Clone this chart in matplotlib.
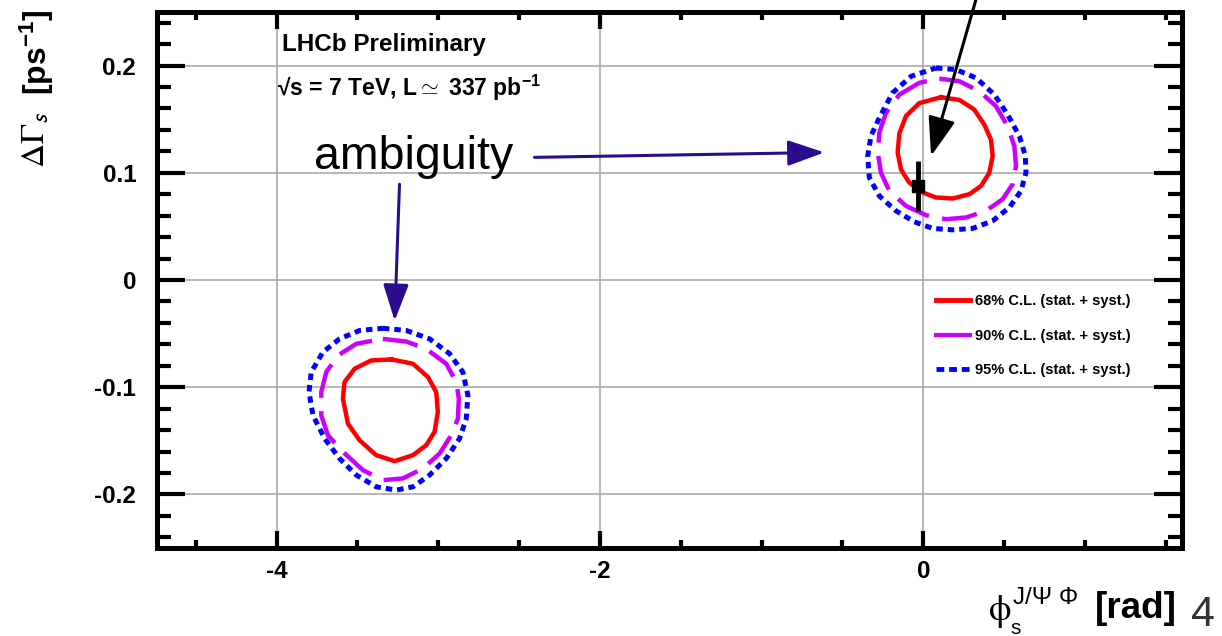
import numpy as np
import matplotlib
matplotlib.use("Agg")
from matplotlib import pyplot as plt
from matplotlib.lines import Line2D
from matplotlib.ticker import MultipleLocator

plt.rcParams['font.family'] = ['Liberation Sans', 'DejaVu Sans']
plt.rcParams['axes.unicode_minus'] = False
plt.rcParams['mathtext.fontset'] = 'custom'
plt.rcParams['mathtext.rm'] = 'Liberation Sans:bold'
plt.rcParams['mathtext.bf'] = 'Liberation Sans:bold'
plt.rcParams['mathtext.it'] = 'Liberation Sans:bold'

# contours around the best fit (phi_s ~ 0)
c68_a_x = [0.109, 0.223, 0.315, 0.377, 0.418, 0.429, 0.408, 0.357, 0.284, 0.181, 0.078, -0.004,
           -0.087, -0.138, -0.159, -0.148, -0.107, -0.025]
c68_a_y = [0.1705, 0.168, 0.159, 0.145, 0.131, 0.1157, 0.100, 0.0877, 0.080, 0.076, 0.077, 0.0816,
           0.0909, 0.103, 0.119, 0.137, 0.153, 0.165]
c90_a_x = [0.099, 0.223, 0.346, 0.449, 0.521, 0.563, 0.573, 0.552, 0.490, 0.387, 0.264, 0.140,
           0.016, -0.107, -0.210, -0.262, -0.282, -0.272, -0.231, -0.148, -0.025]
c90_a_y = [0.1879, 0.1854, 0.1761, 0.1622, 0.1436, 0.125, 0.1064, 0.0893, 0.0753, 0.0645, 0.0583,
           0.0567, 0.0605, 0.0691, 0.0831, 0.100, 0.1188, 0.1374, 0.156, 0.173, 0.1839]
c95_a_x = [0.078, 0.202, 0.326, 0.439, 0.521, 0.594, 0.631, 0.635, 0.604, 0.532, 0.429, 0.305,
           0.181, 0.058, -0.056, -0.169, -0.272, -0.334, -0.344, -0.324, -0.272, -0.190, -0.076]
c95_a_y = [0.1978, 0.1963, 0.1885, 0.173, 0.1544, 0.1343, 0.1157, 0.1002, 0.0831, 0.0676, 0.0552,
           0.0481, 0.0468, 0.0481, 0.0543, 0.0645, 0.0784, 0.0955, 0.1157, 0.1343, 0.1513, 0.1746, 0.190]

# mirror solution (phi_s ~ pi)
c68_b_x = [-3.291, -3.157, -3.064, -3.013, -3.003, -3.023, -3.075, -3.157, -3.270, -3.384, -3.487,
           -3.559, -3.590, -3.580, -3.518, -3.415]
c68_b_y = [-0.0741, -0.0781, -0.0905, -0.1045, -0.1231, -0.1417, -0.1541, -0.1634, -0.169, -0.1634,
           -0.1495, -0.134, -0.1107, -0.0952, -0.0828, -0.075]
c90_b_x = [-3.343, -3.198, -3.075, -2.951, -2.889, -2.873, -2.879, -2.920, -2.992, -3.095, -3.219,
           -3.343, -3.466, -3.590, -3.683, -3.724, -3.724, -3.693, -3.621, -3.507]
c90_b_y = [-0.0549, -0.0574, -0.0642, -0.0781, -0.0952, -0.1107, -0.1293, -0.1448, -0.1619, -0.1758,
           -0.1851, -0.1867, -0.1774, -0.1603, -0.1448, -0.1262, -0.1045, -0.0859, -0.0704, -0.0595]
c95_b_x = [-3.343, -3.198, -3.054, -2.930, -2.848, -2.817, -2.827, -2.869, -2.951, -3.054, -3.157,
           -3.260, -3.384, -3.507, -3.611, -3.703, -3.775, -3.800, -3.786, -3.714, -3.611, -3.487]
c95_b_y = [-0.045, -0.0471, -0.0549, -0.0688, -0.0859, -0.1076, -0.1293, -0.148, -0.1665, -0.182,
           -0.1929, -0.196, -0.1929, -0.182, -0.1665, -0.148, -0.1262, -0.1045, -0.0859, -0.0673,
           -0.0549, -0.0471]

# best fit point
phi_best = -0.035
dg_best = 0.0877
dg_err = 0.023

legend_labels = ["68% C.L. (stat. + syst.)", "90% C.L. (stat. + syst.)", "95% C.L. (stat. + syst.)"]
x_ticks = [-4, -2, 0]
x_ticklabels = ["-4", "-2", "0"]
y_ticks = [-0.2, -0.1, 0, 0.1, 0.2]
y_ticklabels = ["-0.2", "-0.1", "0", "0.1", "0.2"]

col68 = '#ff0000'
col90 = '#cc00ff'
col95 = '#0000ff'
arrow_col = '#2b0c8e'

fig = plt.figure(figsize=(12.22, 6.36), dpi=100)
ax = fig.add_axes([157 / 1222, 1 - 548 / 636, (1182 - 157) / 1222, (548 - 12) / 636])

def closed(v):
	return np.append(v, v[0])

for cx, cy in [(c68_a_x, c68_a_y), (c68_b_x, c68_b_y)]:
	ax.plot(closed(cx), closed(cy), color=col68, lw=3.2, solid_joinstyle='round', zorder=3)
for cx, cy in [(c90_a_x, c90_a_y), (c90_b_x, c90_b_y)]:
	ax.plot(closed(cx), closed(cy), color=col90, lw=3.2, linestyle=(0, (8, 3)), zorder=3)
for cx, cy in [(c95_a_x, c95_a_y), (c95_b_x, c95_b_y)]:
	ax.plot(closed(cx), closed(cy), color=col95, lw=3.6, linestyle=(0, (1.3, 1.0)), zorder=3)

ax.errorbar([phi_best], [dg_best], yerr=[dg_err], fmt='s', color='black', ms=9, elinewidth=3.5,
	capsize=0, zorder=4)

ax.set_xlim(-4.74, 1.6)
ax.set_ylim(-0.25, 0.25)
ax.set_xticks(x_ticks, x_ticklabels)
ax.set_yticks(y_ticks, y_ticklabels)
ax.xaxis.set_minor_locator(MultipleLocator(0.5))
ax.yaxis.set_minor_locator(MultipleLocator(0.02))
ax.grid(True, which='major', color='#aaaaaa', lw=1.2, zorder=0)
ax.set_axisbelow(True)
for s in ax.spines.values():
	s.set_linewidth(3.6)
ax.tick_params(axis='both', which='both', direction='in', top=True, right=True, width=3, labelsize=17.5)
ax.tick_params(axis='x', which='major', length=12, pad=9)
ax.tick_params(axis='x', which='minor', length=6)
ax.tick_params(axis='y', which='major', length=20, pad=15)
ax.tick_params(axis='y', which='minor', length=10)
for lab in ax.get_xticklabels() + ax.get_yticklabels():
	lab.set_fontweight('bold')

handles = [Line2D([], [], color=col68, lw=3.5),
	Line2D([], [], color=col90, lw=3.0),
	Line2D([], [], color=col95, lw=3.5, linestyle=(0, (1.6, 1.0)))]
leg = ax.legend(handles, legend_labels, loc='upper left', bbox_to_anchor=(0.76, 0.474), frameon=False,
	prop={'weight': 'bold', 'size': 10.5}, handlelength=2.3, handletextpad=0.4, labelspacing=1.42,
	borderpad=0, borderaxespad=0)

ax.text(-3.969, 0.2195, "LHCb Preliminary", fontsize=17.5, fontweight='bold', va='center', ha='left')
ax.text(-4.0, 0.1795, r"√s = 7 TeV, L$\simeq$ 337 pb$^{-1}$", fontsize=16.5, fontweight='bold',
	va='center', ha='left')

ax.text(-3.153, 0.1144, "ambiguity", fontsize=33.5, va='center', ha='center', zorder=5)
ax.annotate("", xy=(-0.612, 0.119), xytext=(-2.405, 0.1144),
	arrowprops=dict(arrowstyle='-|>,head_length=0.8,head_width=0.28', color=arrow_col, lw=2.2,
		mutation_scale=28, shrinkA=0, shrinkB=0))
ax.annotate("", xy=(-3.27, -0.038), xytext=(-3.24, 0.0893),
	arrowprops=dict(arrowstyle='-|>,head_length=0.8,head_width=0.28', color=arrow_col, lw=2.2,
		mutation_scale=28, shrinkA=0, shrinkB=0))
ax.annotate("", xy=(0.048, 0.1157), xytext=(0.334, 0.266), annotation_clip=False,
	arrowprops=dict(arrowstyle='-|>,head_length=0.85,head_width=0.3', color='black', lw=2.2,
		mutation_scale=28, shrinkA=0, shrinkB=0))

# axis titles
fig.text(36 / 1222, 1 - 140 / 636, r'$\Delta\Gamma_{\mathsf{s}}$', math_fontfamily='stix', fontsize=24,
	rotation=90, ha='center', va='center')
fig.text(37 / 1222, 1 - 52 / 636, r'[ps$^{-1}$]', fontsize=23, fontweight='bold', rotation=90,
	ha='center', va='center')
fig.text(1000 / 1222, 1 - 612 / 636, r'$\mathrm{\phi}$', math_fontfamily='stix', fontsize=26,
	ha='center', va='center')
fig.text(1046 / 1222, 1 - 598 / 636, "J/Ψ Φ", fontsize=17.5, ha='center', va='center')
fig.text(1016 / 1222, 1 - 629 / 636, "s", fontsize=15, ha='center', va='center')
fig.text(1136 / 1222, 1 - 608 / 636, "[rad]", fontsize=26.5, fontweight='bold', ha='center',
	va='center')
fig.text(1203 / 1222, 1 - 615 / 636, "4", fontsize=31, color='#333333', ha='center', va='center')

fig.savefig("out.png", dpi=100)
